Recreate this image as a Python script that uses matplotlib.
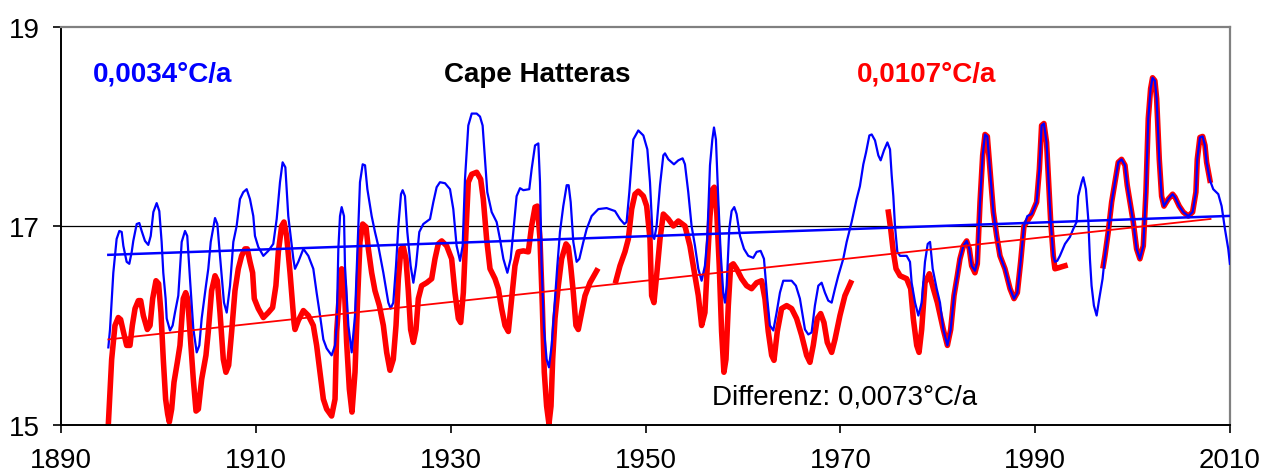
import numpy as np
import matplotlib.pyplot as plt

plt.rcParams['font.family'] = ['Liberation Sans', 'DejaVu Sans']

# smoothed annual mean temperature, all years
blue_year = [
    1894.86, 1895.03, 1895.37, 1895.71, 1895.99, 1896.23, 1896.40, 1896.74, 1897.01, 1897.26,
    1897.42, 1897.77, 1898.04, 1898.28, 1898.62, 1898.96, 1899.21, 1899.48, 1899.82, 1900.09,
    1900.33, 1900.50, 1900.74, 1900.85, 1901.19, 1901.46, 1901.70, 1902.04, 1902.39, 1902.73,
    1902.96, 1903.24, 1903.58, 1903.93, 1904.20, 1904.44, 1904.88, 1905.12, 1905.37, 1905.81,
    1906.05, 1906.32, 1906.73, 1907.01, 1907.35, 1907.69, 1908.03, 1908.37, 1908.71, 1909.06,
    1909.40, 1909.74, 1909.91, 1910.25, 1910.77, 1911.28, 1911.79, 1912.14, 1912.48, 1912.75,
    1913.03, 1913.33, 1913.85, 1914.02, 1914.36, 1914.88, 1915.39, 1915.90, 1916.24, 1916.59,
    1916.93, 1917.27, 1917.78, 1918.13, 1918.30, 1918.47, 1918.64, 1918.81, 1919.05, 1919.15,
    1919.50, 1919.84, 1920.18, 1920.52, 1920.69, 1920.97, 1921.21, 1921.45, 1921.89, 1922.23,
    1922.57, 1923.09, 1923.60, 1923.84, 1924.11, 1924.39, 1924.63, 1924.90, 1925.07, 1925.31,
    1925.55, 1925.89, 1926.17, 1926.44, 1926.78, 1927.19, 1927.88, 1928.22, 1928.56, 1928.90,
    1929.42, 1929.93, 1930.27, 1930.61, 1930.96, 1931.23, 1931.47, 1931.81, 1932.16, 1932.67,
    1933.01, 1933.28, 1933.52, 1933.76, 1934.21, 1934.72, 1935.06, 1935.41, 1935.82, 1936.16,
    1936.43, 1936.77, 1937.12, 1937.46, 1938.07, 1938.31, 1938.66, 1939.00, 1939.17, 1939.34,
    1939.58, 1939.85, 1940.09, 1940.37, 1940.71, 1940.95, 1941.22, 1941.56, 1941.91, 1942.11,
    1942.32, 1942.59, 1942.93, 1943.21, 1943.62, 1943.96, 1944.47, 1945.16, 1946.01, 1946.87,
    1947.38, 1947.83, 1948.06, 1948.34, 1948.75, 1949.26, 1949.78, 1950.19, 1950.46, 1950.73,
    1950.90, 1951.14, 1951.49, 1951.83, 1952.00, 1952.34, 1952.92, 1953.37, 1953.81, 1954.05,
    1954.39, 1954.73, 1955.08, 1955.42, 1955.76, 1956.10, 1956.34, 1956.62, 1956.86, 1957.03,
    1957.23, 1957.47, 1957.71, 1957.98, 1958.16, 1958.33, 1958.60, 1958.84, 1959.11, 1959.35,
    1959.70, 1960.11, 1960.55, 1961.06, 1961.41, 1961.82, 1962.16, 1962.50, 1962.77, 1963.12,
    1963.46, 1963.80, 1964.14, 1965.00, 1965.44, 1965.85, 1966.37, 1966.71, 1967.05, 1967.39,
    1967.74, 1968.08, 1968.42, 1968.76, 1969.11, 1969.45, 1969.79, 1970.30, 1970.65, 1971.16,
    1971.67, 1972.01, 1972.36, 1972.64, 1972.98, 1973.22, 1973.56, 1973.90, 1974.14, 1974.48,
    1974.83, 1975.10, 1975.27, 1975.44, 1975.61, 1975.85, 1976.13, 1976.81, 1977.15, 1977.32,
    1977.67, 1978.01, 1978.35, 1978.69, 1978.97, 1979.21, 1979.48, 1979.89, 1980.23, 1980.57,
    1980.99, 1981.33, 1981.67, 1982.01, 1982.28, 1982.63, 1982.97, 1983.24, 1983.48, 1983.82,
    1984.06, 1984.34, 1984.61, 1984.85, 1985.09, 1985.36, 1985.71, 1986.05, 1986.39, 1986.90,
    1987.42, 1987.83, 1988.17, 1988.51, 1988.85, 1989.20, 1989.64, 1990.15, 1990.43, 1990.66,
    1990.90, 1991.17, 1991.35, 1991.58, 1991.86, 1992.03, 1992.27, 1992.54, 1993.06, 1993.57,
    1993.91, 1994.25, 1994.42, 1994.77, 1994.94, 1995.21, 1995.45, 1995.62, 1995.79, 1996.03,
    1996.31, 1996.58, 1996.92, 1997.16, 1997.50, 1997.85, 1998.19, 1998.53, 1998.87, 1999.22,
    1999.45, 1999.73, 2000.07, 2000.41, 2000.75, 2001.10, 2001.37, 2001.61, 2001.85, 2002.05,
    2002.29, 2002.47, 2002.74, 2002.98, 2003.22, 2003.66, 2004.11, 2004.35, 2004.79, 2005.20,
    2005.72, 2006.16, 2006.50, 2006.64, 2006.91, 2007.19, 2007.43, 2007.60, 2007.94, 2008.28,
    2008.80, 2009.14, 2009.48, 2009.82, 2009.99,
]
blue_temp = [
    15.78, 15.96, 16.53, 16.87, 16.95, 16.94, 16.80, 16.64, 16.62, 16.74,
    16.85, 17.02, 17.03, 16.95, 16.85, 16.81, 16.90, 17.14, 17.23, 17.15,
    16.84, 16.53, 16.27, 16.07, 15.95, 16.00, 16.13, 16.30, 16.84, 16.95,
    16.90, 16.47, 15.97, 15.73, 15.80, 16.07, 16.40, 16.57, 16.84, 17.08,
    17.02, 16.70, 16.23, 16.13, 16.40, 16.84, 17.00, 17.27, 17.34, 17.37,
    17.27, 17.10, 16.90, 16.79, 16.70, 16.75, 16.82, 17.07, 17.44, 17.64,
    17.59, 17.10, 16.67, 16.57, 16.64, 16.77, 16.70, 16.57, 16.33, 16.10,
    15.86, 15.77, 15.70, 15.80, 16.00, 16.77, 17.10, 17.19, 17.10, 16.60,
    16.00, 15.73, 16.10, 17.00, 17.44, 17.62, 17.61, 17.37, 17.10, 16.94,
    16.80, 16.53, 16.23, 16.17, 16.23, 16.60, 17.00, 17.32, 17.36, 17.30,
    16.94, 16.60, 16.43, 16.60, 16.94, 17.02, 17.07, 17.24, 17.39, 17.44,
    17.43, 17.37, 17.17, 16.80, 16.65, 16.80, 17.47, 18.01, 18.13, 18.13,
    18.10, 18.01, 17.67, 17.34, 17.14, 17.04, 16.87, 16.67, 16.53, 16.67,
    16.94, 17.30, 17.38, 17.36, 17.37, 17.57, 17.81, 17.83, 17.44, 16.60,
    15.96, 15.66, 15.58, 15.80, 16.27, 16.60, 16.94, 17.20, 17.41, 17.41,
    17.24, 16.84, 16.64, 16.67, 16.84, 16.97, 17.10, 17.17, 17.18, 17.15,
    17.07, 17.02, 17.04, 17.34, 17.87, 17.96, 17.91, 17.77, 17.44, 16.90,
    16.87, 17.00, 17.41, 17.71, 17.73, 17.67, 17.62, 17.66, 17.68, 17.62,
    17.34, 17.00, 16.80, 16.57, 16.45, 16.60, 16.87, 17.61, 17.87, 17.99,
    17.87, 17.27, 16.74, 16.33, 16.23, 16.40, 16.97, 17.15, 17.19, 17.12,
    16.90, 16.77, 16.70, 16.68, 16.74, 16.75, 16.67, 16.27, 16.00, 15.95,
    16.13, 16.33, 16.45, 16.45, 16.40, 16.27, 15.96, 15.91, 15.93, 16.20,
    16.40, 16.43, 16.33, 16.25, 16.23, 16.37, 16.50, 16.67, 16.84, 17.04,
    17.27, 17.40, 17.62, 17.74, 17.91, 17.92, 17.86, 17.71, 17.66, 17.76,
    17.84, 17.77, 17.51, 17.30, 17.00, 16.74, 16.70, 16.70, 16.64, 16.43,
    16.23, 16.10, 16.23, 16.64, 16.82, 16.84, 16.57, 16.37, 16.23, 15.96,
    15.80, 15.96, 16.30, 16.50, 16.67, 16.80, 16.85, 16.77, 16.60, 16.55,
    16.64, 17.24, 17.71, 17.92, 17.90, 17.57, 17.14, 16.90, 16.70, 16.57,
    16.37, 16.27, 16.33, 16.64, 17.00, 17.10, 17.12, 17.24, 17.57, 18.01,
    18.03, 17.84, 17.51, 17.07, 16.70, 16.64, 16.65, 16.70, 16.82, 16.89,
    16.97, 17.04, 17.30, 17.44, 17.49, 17.37, 17.07, 16.67, 16.40, 16.20,
    16.10, 16.27, 16.47, 16.70, 16.94, 17.24, 17.44, 17.64, 17.67, 17.61,
    17.41, 17.24, 17.04, 16.77, 16.67, 16.80, 17.34, 18.08, 18.38, 18.49,
    18.46, 18.28, 17.67, 17.30, 17.20, 17.27, 17.32, 17.29, 17.20, 17.14,
    17.10, 17.14, 17.34, 17.67, 17.89, 17.90, 17.81, 17.64, 17.46, 17.37,
    17.32, 17.20, 16.97, 16.77, 16.62,
]

# series with missing years (nan = gap)
nan = np.nan
red_year = [
    1894.86, 1895.03, 1895.20, 1895.54, 1895.88, 1896.12, 1896.40, 1896.74, 1897.08, 1897.32,
    1897.60, 1897.94, 1898.18, 1898.45, 1898.86, 1899.14, 1899.41, 1899.75, 1900.02, 1900.26,
    1900.50, 1900.74, 1900.95, 1901.12, 1901.36, 1901.60, 1901.94, 1902.21, 1902.55, 1902.80,
    1903.00, 1903.24, 1903.58, 1903.86, 1904.10, 1904.44, 1904.88, 1905.12, 1905.46, 1905.81,
    1906.05, 1906.32, 1906.66, 1906.93, 1907.21, 1907.52, 1907.86, 1908.20, 1908.54, 1908.88,
    1909.12, 1909.40, 1909.67, 1909.84, 1910.25, 1910.77, 1911.28, 1911.72, 1912.06, 1912.31,
    1912.65, 1912.89, 1913.16, 1913.51, 1913.92, 1914.02, 1914.36, 1914.88, 1915.39, 1915.90,
    1916.24, 1916.59, 1916.93, 1917.27, 1917.78, 1918.13, 1918.30, 1918.64, 1918.81, 1919.08,
    1919.32, 1919.60, 1919.87, 1920.18, 1920.45, 1920.69, 1920.97, 1921.31, 1921.55, 1921.89,
    1922.23, 1922.68, 1923.09, 1923.43, 1923.77, 1924.11, 1924.39, 1924.63, 1924.90, 1925.14,
    1925.41, 1925.65, 1925.89, 1926.17, 1926.44, 1926.68, 1927.02, 1927.54, 1928.05, 1928.39,
    1928.73, 1929.08, 1929.59, 1930.10, 1930.44, 1930.79, 1931.03, 1931.30, 1931.57, 1931.81,
    1932.16, 1932.67, 1933.08, 1933.35, 1933.69, 1934.04, 1934.55, 1934.89, 1935.23, 1935.58,
    1935.92, 1936.26, 1936.60, 1936.94, 1937.46, 1937.97, 1938.31, 1938.66, 1938.90, 1939.17,
    1939.41, 1939.61, 1939.85, 1940.09, 1940.30, 1940.47, 1940.71, 1941.05, 1941.39, 1941.84,
    1942.08, 1942.32, 1942.59, 1942.86, 1943.10, 1943.45, 1943.79, 1944.30, 1944.99,
    1946.0,
    1946.97, 1947.38, 1947.89, 1948.24, 1948.58, 1948.92, 1949.26, 1949.78, 1950.12, 1950.46,
    1950.63, 1950.87, 1951.14, 1951.49, 1951.83, 1952.34, 1952.86, 1953.37, 1954.05, 1954.56,
    1955.08, 1955.42, 1955.76, 1956.10, 1956.34, 1956.62, 1956.89, 1957.06, 1957.30, 1957.57,
    1957.81, 1958.05, 1958.26, 1958.50, 1958.74, 1959.01, 1959.35, 1959.87, 1960.38, 1960.89,
    1961.41, 1961.92, 1962.26, 1962.60, 1962.95, 1963.19, 1963.53, 1963.97, 1964.49, 1965.00,
    1965.51, 1966.03, 1966.54, 1966.88, 1967.22, 1967.63, 1967.98, 1968.32, 1968.66, 1969.11,
    1969.45, 1969.96, 1970.47, 1971.06,
    1973.0,
    1974.93, 1975.17, 1975.44, 1975.72, 1976.13, 1976.81, 1977.22, 1977.49, 1977.84, 1978.08,
    1978.35, 1978.69, 1979.14, 1979.55, 1979.96, 1980.57, 1980.99, 1981.33, 1981.67, 1982.01,
    1982.28, 1982.63, 1982.97, 1983.24, 1983.48, 1983.82, 1984.06, 1984.34, 1984.61, 1984.85,
    1985.09, 1985.36, 1985.71, 1986.05, 1986.39, 1986.90, 1987.42, 1987.83, 1988.17, 1988.51,
    1988.85, 1989.20, 1989.64, 1990.15, 1990.43, 1990.66, 1990.90, 1991.17, 1991.35, 1991.58,
    1991.86, 1992.03, 1992.40, 1992.71, 1993.06,
    1995.0,
    1996.99, 1997.16, 1997.50, 1997.85, 1998.19, 1998.53, 1998.87, 1999.22, 1999.45, 1999.73,
    2000.07, 2000.41, 2000.75, 2001.10, 2001.37, 2001.61, 2001.85, 2002.05, 2002.29, 2002.47,
    2002.74, 2002.98, 2003.22, 2003.66, 2004.11, 2004.35, 2004.79, 2005.20, 2005.72, 2006.16,
    2006.50, 2006.64, 2006.91, 2007.19, 2007.43, 2007.60, 2007.94,
]
red_temp = [
    15.01, 15.33, 15.66, 16.00, 16.08, 16.06, 15.94, 15.80, 15.80, 16.00,
    16.17, 16.25, 16.25, 16.10, 15.96, 16.00, 16.27, 16.45, 16.42, 16.13,
    15.66, 15.26, 15.11, 15.03, 15.16, 15.43, 15.63, 15.80, 16.27, 16.33,
    16.27, 15.94, 15.46, 15.14, 15.16, 15.46, 15.70, 15.94, 16.35, 16.50,
    16.45, 16.13, 15.66, 15.53, 15.60, 15.94, 16.35, 16.57, 16.70, 16.77,
    16.77, 16.64, 16.53, 16.27, 16.17, 16.08, 16.13, 16.18, 16.40, 16.74,
    17.00, 17.04, 16.90, 16.53, 16.03, 15.96, 16.05, 16.15, 16.10, 16.00,
    15.80, 15.53, 15.26, 15.16, 15.09, 15.26, 15.94, 16.40, 16.57, 16.40,
    15.83, 15.36, 15.13, 15.53, 16.27, 16.84, 17.02, 16.99, 16.77, 16.53,
    16.35, 16.20, 16.00, 15.73, 15.55, 15.66, 16.00, 16.47, 16.77, 16.79,
    16.67, 16.35, 15.96, 15.83, 15.96, 16.27, 16.40, 16.43, 16.47, 16.67,
    16.82, 16.85, 16.80, 16.67, 16.33, 16.07, 16.03, 16.33, 16.94, 17.44,
    17.52, 17.54, 17.47, 17.27, 16.87, 16.57, 16.47, 16.37, 16.17, 16.00,
    15.94, 16.27, 16.60, 16.74, 16.75, 16.74, 17.00, 17.19, 17.20, 16.87,
    16.20, 15.53, 15.19, 15.01, 15.19, 15.66, 16.07, 16.40, 16.67, 16.82,
    16.79, 16.60, 16.33, 16.00, 15.96, 16.13, 16.30, 16.43, 16.55,
    nan,
    16.45, 16.60, 16.74, 16.87, 17.17, 17.32, 17.35, 17.30, 17.20, 16.87,
    16.30, 16.23, 16.50, 16.87, 17.12, 17.07, 17.00, 17.05, 17.00, 16.80,
    16.50, 16.30, 16.00, 16.13, 16.60, 17.10, 17.37, 17.39, 17.17, 16.60,
    15.94, 15.53, 15.66, 16.20, 16.60, 16.62, 16.57, 16.47, 16.40, 16.37,
    16.43, 16.45, 16.27, 15.94, 15.70, 15.65, 15.94, 16.17, 16.20, 16.17,
    16.07, 15.90, 15.70, 15.63, 15.80, 16.07, 16.12, 16.03, 15.83, 15.73,
    15.86, 16.10, 16.30, 16.43,
    nan,
    17.14, 16.97, 16.74, 16.57, 16.50, 16.47, 16.37, 16.07, 15.80, 15.73,
    15.96, 16.43, 16.52, 16.37, 16.23, 15.96, 15.80, 15.96, 16.30, 16.50,
    16.67, 16.80, 16.85, 16.77, 16.60, 16.53, 16.62, 17.24, 17.71, 17.92,
    17.90, 17.57, 17.14, 16.90, 16.70, 16.57, 16.37, 16.27, 16.33, 16.64,
    17.00, 17.05, 17.12, 17.24, 17.57, 18.01, 18.03, 17.84, 17.51, 17.07,
    16.70, 16.57, 16.58, 16.59, 16.60,
    nan,
    16.60, 16.70, 16.94, 17.24, 17.44, 17.64, 17.67, 17.61, 17.41, 17.24,
    17.04, 16.77, 16.67, 16.80, 17.34, 18.08, 18.38, 18.49, 18.46, 18.28,
    17.67, 17.30, 17.20, 17.27, 17.32, 17.29, 17.20, 17.14, 17.10, 17.14,
    17.34, 17.67, 17.89, 17.90, 17.81, 17.64, 17.46,
]

# linear trends (°C per year) and their start values
blue_slope, red_slope = 0.0034, 0.0107
trend_start = 1894.86
blue_trend_start, red_trend_start = 16.71, 15.86
blue_trend_end, red_trend_end = 2010.0, 2008.0

fig = plt.figure(figsize=(12.64, 4.77), dpi=100)
ax = fig.add_axes([61 / 1264, 1 - 426 / 477, (1230 - 61) / 1264, (426 - 28) / 477])

ax.axhline(17, color='black', lw=0.9, zorder=1)

ax.plot(red_year, red_temp, color='#ff0000', lw=4.0, zorder=2, solid_joinstyle='round')
ax.plot(blue_year, blue_temp, color='#0000ff', lw=1.6, zorder=3)

bx = np.array([trend_start, blue_trend_end])
rx = np.array([trend_start, red_trend_end])
ax.plot(bx, blue_trend_start + blue_slope * (bx - trend_start), color='#0000ff', lw=1.8, zorder=4)
ax.plot(rx, red_trend_start + red_slope * (rx - trend_start), color='#ff0000', lw=1.3, zorder=4)

ax.set_xlim(1890, 2010)
ax.set_ylim(15, 19)
ax.set_xticks(range(1890, 2011, 20))
ax.set_yticks([15, 17, 19])
ax.tick_params(axis='both', direction='out', length=6, width=1.2, labelsize=20)
ax.tick_params(axis='x', pad=10)
ax.tick_params(axis='y', pad=9)

for side in ['top', 'right']:
    ax.spines[side].set_color('#808080')
    ax.spines[side].set_linewidth(1.6)
for side in ['left', 'bottom']:
    ax.spines[side].set_color('black')
    ax.spines[side].set_linewidth(1.4)

ax.text(1893.3, 18.53, '0,0034°C/a', color='#0000ff', fontsize=20, fontweight='bold', va='center')
ax.text(1938.9, 18.53, 'Cape Hatteras', color='black', fontsize=20, fontweight='bold', va='center', ha='center')
ax.text(1971.7, 18.53, '0,0107°C/a', color='#ff0000', fontsize=20, fontweight='bold', va='center')
ax.text(1956.8, 15.29, 'Differenz: 0,0073°C/a', color='black', fontsize=20, va='center')

fig.savefig('out.png', dpi=100)
